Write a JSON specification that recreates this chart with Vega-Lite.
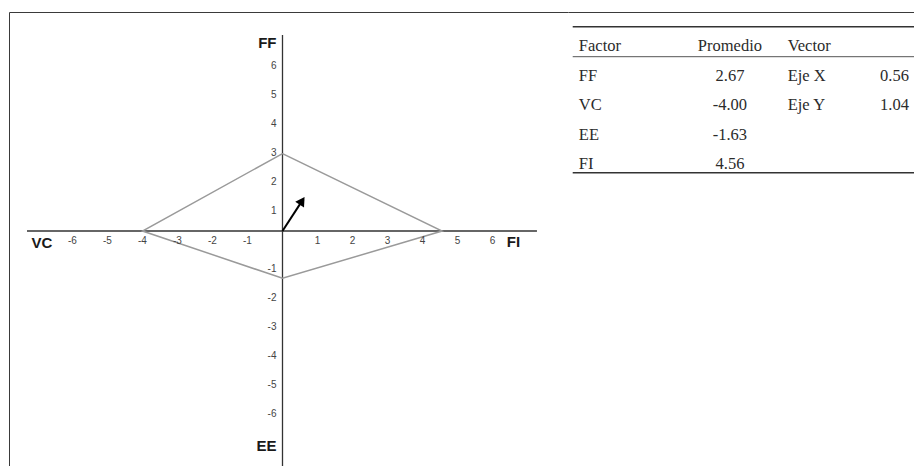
{
  "$schema": "https://vega.github.io/schema/vega-lite/v6.json",
  "background": "white",
  "padding": {"left": 9, "top": 12, "right": 0, "bottom": 0},
  "autosize": {"type": "pad"},
  "spacing": 0,
  "bounds": "flush",
  "config": {
    "view": {"stroke": null},
    "axis": {"grid": false, "ticks": false, "labels": false, "domainColor": "#3a3a3a", "domainWidth": 1}
  },
  "datasets": {
    "poligono": [
      {"factor": "FF", "x": 0, "y": 2.67, "orden": 1},
      {"factor": "FI", "x": 4.56, "y": 0, "orden": 2},
      {"factor": "EE", "x": 0, "y": -1.63, "orden": 3},
      {"factor": "VC", "x": -4.0, "y": 0, "orden": 4},
      {"factor": "FF", "x": 0, "y": 2.67, "orden": 5}
    ],
    "vector": [{"x0": 0, "y0": 0, "x": 0.56, "y": 1.04}],
    "marcas": [
      {"v": -6, "t": "-6"}, {"v": -5, "t": "-5"}, {"v": -4, "t": "-4"}, {"v": -3, "t": "-3"},
      {"v": -2, "t": "-2"}, {"v": -1, "t": "-1"}, {"v": 1, "t": "1"}, {"v": 2, "t": "2"},
      {"v": 3, "t": "3"}, {"v": 4, "t": "4"}, {"v": 5, "t": "5"}, {"v": 6, "t": "6"}
    ],
    "nombres": [{"nombre": "FF"}, {"nombre": "VC"}, {"nombre": "EE"}, {"nombre": "FI"}],
    "tabla": [
      {"fila": "encabezado", "columna": "Factor", "texto": "Factor"},
      {"fila": "encabezado", "columna": "Promedio", "texto": "Promedio"},
      {"fila": "encabezado", "columna": "Vector", "texto": "Vector"},
      {"fila": "FF", "columna": "Factor", "texto": "FF"},
      {"fila": "FF", "columna": "Promedio", "texto": "2.67"},
      {"fila": "FF", "columna": "Vector", "texto": "Eje X"},
      {"fila": "FF", "columna": "Valor", "texto": "0.56"},
      {"fila": "VC", "columna": "Factor", "texto": "VC"},
      {"fila": "VC", "columna": "Promedio", "texto": "-4.00"},
      {"fila": "VC", "columna": "Vector", "texto": "Eje Y"},
      {"fila": "VC", "columna": "Valor", "texto": "1.04"},
      {"fila": "EE", "columna": "Factor", "texto": "EE"},
      {"fila": "EE", "columna": "Promedio", "texto": "-1.63"},
      {"fila": "FI", "columna": "Factor", "texto": "FI"},
      {"fila": "FI", "columna": "Promedio", "texto": "4.56"}
    ]
  },
  "hconcat": [
    {
      "width": 559,
      "height": 454,
      "layer": [
        {
          "data": {"values": [{}]},
          "mark": {"type": "rule", "color": "#333333", "strokeWidth": 1.3},
          "encoding": {
            "x": {"datum": -7.3, "type": "quantitative", "scale": {"domain": [-7.814, 8.157], "nice": false, "zero": false}, "axis": {"orient": "top", "title": null}},
            "x2": {"datum": 7.27},
            "y": {"datum": 0, "type": "quantitative", "scale": {"domain": [-8.103, 7.552], "nice": false, "zero": false}, "axis": {"orient": "left", "title": null}}
          }
        },
        {
          "data": {"values": [{}]},
          "mark": {"type": "rule", "color": "#333333", "strokeWidth": 1.3},
          "encoding": {
            "x": {"datum": 0, "type": "quantitative", "title": null},
            "y": {"datum": 6.76, "type": "quantitative", "title": null},
            "y2": {"datum": -8.103}
          }
        },
        {
          "data": {"name": "poligono"},
          "mark": {"type": "line", "color": "#9a9a9a", "strokeWidth": 1.5},
          "encoding": {
            "x": {"field": "x", "type": "quantitative", "title": null},
            "y": {"field": "y", "type": "quantitative", "title": null},
            "order": {"field": "orden", "type": "quantitative"}
          }
        },
        {
          "data": {"name": "marcas"},
          "mark": {"type": "text", "font": "Liberation Sans", "fontSize": 10, "color": "#444444", "align": "center", "baseline": "middle", "dy": 10},
          "encoding": {
            "x": {"field": "v", "type": "quantitative", "title": null},
            "y": {"datum": 0, "type": "quantitative", "title": null},
            "text": {"field": "t", "type": "nominal"}
          }
        },
        {
          "data": {"name": "marcas"},
          "mark": {"type": "text", "font": "Liberation Sans", "fontSize": 10, "color": "#444444", "align": "right", "baseline": "middle", "dx": -6, "dy": 9},
          "encoding": {
            "x": {"datum": 0, "type": "quantitative", "title": null},
            "y": {"field": "v", "type": "quantitative", "title": null},
            "text": {"field": "t", "type": "nominal"}
          }
        },
        {
          "data": {"name": "vector"},
          "mark": {"type": "rule", "color": "#000000", "strokeWidth": 2},
          "encoding": {
            "x": {"field": "x0", "type": "quantitative", "title": null},
            "y": {"field": "y0", "type": "quantitative", "title": null},
            "x2": {"field": "x"},
            "y2": {"field": "y"}
          }
        },
        {
          "data": {"name": "vector"},
          "mark": {"type": "point", "shape": "triangle-up", "filled": true, "color": "#000000", "opacity": 1, "size": 110, "angle": 33},
          "encoding": {
            "x": {"field": "x", "type": "quantitative", "title": null},
            "y": {"field": "y", "type": "quantitative", "title": null}
          }
        },
        {
          "data": {"name": "nombres"},
          "transform": [{"filter": "datum.nombre === 'FF'"}],
          "mark": {"type": "text", "font": "Liberation Sans", "fontWeight": "bold", "fontSize": 15, "color": "#1a1a1a", "align": "right", "baseline": "middle", "dx": -6},
          "encoding": {
            "x": {"datum": 0, "type": "quantitative", "title": null},
            "y": {"datum": 6.5, "type": "quantitative", "title": null},
            "text": {"field": "nombre", "type": "nominal"}
          }
        },
        {
          "data": {"name": "nombres"},
          "transform": [{"filter": "datum.nombre === 'EE'"}],
          "mark": {"type": "text", "font": "Liberation Sans", "fontWeight": "bold", "fontSize": 15, "color": "#1a1a1a", "align": "right", "baseline": "middle", "dx": -6},
          "encoding": {
            "x": {"datum": 0, "type": "quantitative", "title": null},
            "y": {"datum": -7.43, "type": "quantitative", "title": null},
            "text": {"field": "nombre", "type": "nominal"}
          }
        },
        {
          "data": {"name": "nombres"},
          "transform": [{"filter": "datum.nombre === 'VC'"}],
          "mark": {"type": "text", "font": "Liberation Sans", "fontWeight": "bold", "fontSize": 15, "color": "#1a1a1a", "align": "left", "baseline": "middle", "dy": 12},
          "encoding": {
            "x": {"datum": -7.17, "type": "quantitative", "title": null},
            "y": {"datum": 0, "type": "quantitative", "title": null},
            "text": {"field": "nombre", "type": "nominal"}
          }
        },
        {
          "data": {"name": "nombres"},
          "transform": [{"filter": "datum.nombre === 'FI'"}],
          "mark": {"type": "text", "font": "Liberation Sans", "fontWeight": "bold", "fontSize": 15, "color": "#1a1a1a", "align": "left", "baseline": "middle", "dy": 11},
          "encoding": {
            "x": {"datum": 6.41, "type": "quantitative", "title": null},
            "y": {"datum": 0, "type": "quantitative", "title": null},
            "text": {"field": "nombre", "type": "nominal"}
          }
        }
      ]
    },
    {
      "width": 346,
      "height": 177,
      "layer": [
        {
          "data": {"values": [{}]},
          "mark": {"type": "rule", "color": "#333333", "strokeWidth": 1.6, "xOffset": -6.1, "yOffset": -14.8},
          "encoding": {
            "x": {"datum": "Factor", "type": "nominal", "scale": {"type": "point", "domain": ["Factor", "Promedio", "Vector", "Valor"], "padding": 0.1}, "axis": {"orient": "top", "title": null}},
            "x2": {"value": "width"},
            "y": {"datum": "encabezado", "type": "nominal", "scale": {"type": "point", "domain": ["encabezado", "FF", "VC", "EE", "FI"], "padding": 1}, "axis": null}
          }
        },
        {
          "data": {"values": [{}]},
          "mark": {"type": "rule", "color": "#555555", "strokeWidth": 1, "xOffset": -6.1, "yOffset": 15.2},
          "encoding": {
            "x": {"datum": "Factor", "type": "nominal", "title": null},
            "x2": {"value": "width"},
            "y": {"datum": "encabezado", "type": "nominal", "title": null}
          }
        },
        {
          "data": {"values": [{}]},
          "mark": {"type": "rule", "color": "#333333", "strokeWidth": 1.6, "xOffset": -6.1, "yOffset": 13.2},
          "encoding": {
            "x": {"datum": "Factor", "type": "nominal", "title": null},
            "x2": {"value": "width"},
            "y": {"datum": "FI", "type": "nominal", "title": null}
          }
        },
        {
          "data": {"name": "tabla"},
          "transform": [{"filter": "datum.columna === 'Factor'"}],
          "mark": {"type": "text", "font": "Liberation Serif", "fontSize": 16.5, "color": "#2b2b2b", "align": "left", "baseline": "middle", "dy": 4.5},
          "encoding": {
            "x": {"field": "columna", "type": "nominal", "title": null},
            "y": {"field": "fila", "type": "nominal", "title": null},
            "text": {"field": "texto", "type": "nominal"}
          }
        },
        {
          "data": {"name": "tabla"},
          "transform": [{"filter": "datum.columna === 'Promedio'"}],
          "mark": {"type": "text", "font": "Liberation Serif", "fontSize": 16.5, "color": "#2b2b2b", "align": "center", "baseline": "middle", "dx": 43, "dy": 4.5},
          "encoding": {
            "x": {"field": "columna", "type": "nominal", "title": null},
            "y": {"field": "fila", "type": "nominal", "title": null},
            "text": {"field": "texto", "type": "nominal"}
          }
        },
        {
          "data": {"name": "tabla"},
          "transform": [{"filter": "datum.columna === 'Vector'"}],
          "mark": {"type": "text", "font": "Liberation Serif", "fontSize": 16.5, "color": "#2b2b2b", "align": "left", "baseline": "middle", "dx": -7.4, "dy": 4.5},
          "encoding": {
            "x": {"field": "columna", "type": "nominal", "title": null},
            "y": {"field": "fila", "type": "nominal", "title": null},
            "text": {"field": "texto", "type": "nominal"}
          }
        },
        {
          "data": {"name": "tabla"},
          "transform": [{"filter": "datum.columna === 'Valor'"}],
          "mark": {"type": "text", "font": "Liberation Serif", "fontSize": 16.5, "color": "#2b2b2b", "align": "center", "baseline": "middle", "dx": -8.7, "dy": 4.5},
          "encoding": {
            "x": {"field": "columna", "type": "nominal", "title": null},
            "y": {"field": "fila", "type": "nominal", "title": null},
            "text": {"field": "texto", "type": "nominal"}
          }
        }
      ]
    }
  ]
}
